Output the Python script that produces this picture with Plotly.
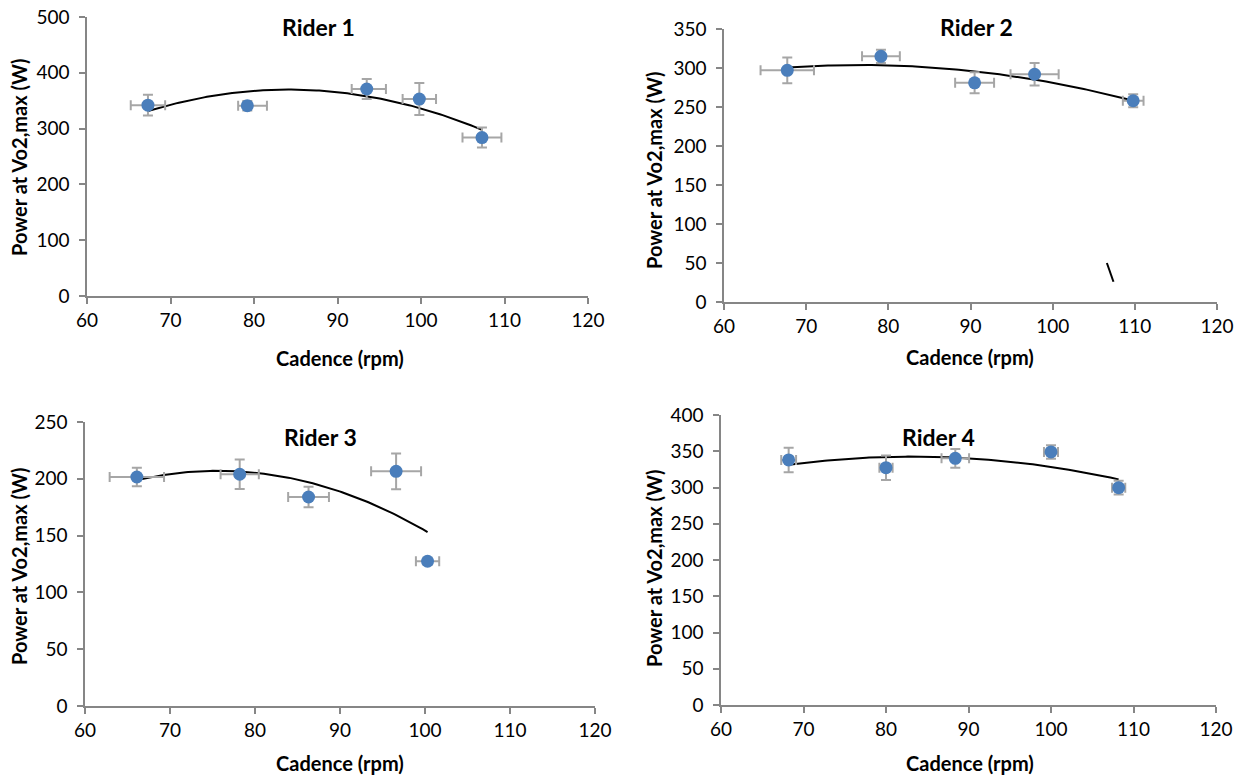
import numpy as np
import plotly.graph_objects as go

W, H = 1244, 778

# ---- data: cadence (rpm) vs power at VO2max (W), with SDs ----
rider1_cad = [67.3, 79.2, 93.5, 99.8, 107.3]
rider1_pow = [342, 341, 371, 353, 284]
rider1_cad_sd_plus = [2.06, 2.35, 2.3, 2.0, 2.33]
rider1_cad_sd_minus = [2.06, 1.1, 1.8, 2.0, 2.33]
rider1_pow_sd = [18.5, 8.6, 18, 28.7, 18]

rider2_cad = [67.7, 79.1, 90.5, 97.8, 109.8]
rider2_pow = [297, 315, 281, 292, 258]
rider2_cad_sd = [3.25, 2.3, 2.37, 2.93, 1.26]
rider2_pow_sd = [16.5, 8.5, 13.5, 14.5, 8.3]

rider3_cad = [66.1, 78.2, 86.3, 96.6, 100.3]
rider3_pow = [201.6, 204, 184, 206.6, 127.4]
rider3_cad_sd = [3.2, 2.25, 2.4, 2.94, 1.37]
rider3_pow_sd = [8.1, 12.9, 9.1, 15.7, 3]

rider4_cad = [68.2, 80.0, 88.4, 100.0, 108.2]
rider4_pow = [338, 327.3, 340.2, 349, 299.8]
rider4_cad_sd = [0.9, 0.8, 1.67, 0.85, 0.8]
rider4_pow_sd = [17, 16.8, 13, 9.2, 9.5]

titles = ["Rider 1", "Rider 2", "Rider 3", "Rider 4"]
x_label = "Cadence (rpm)"
y_label = "Power at Vo2,max (W)"
x_ticks = [60, 70, 80, 90, 100, 110, 120]
y_max = [500, 350, 250, 400]
y_step = [100, 50, 50, 50]

# stray pen stroke on the Rider 2 panel (cadence, power)
stroke_x = [106.6, 107.4]
stroke_y = [50, 26]

riders = [
    dict(x=rider1_cad, y=rider1_pow, ex=rider1_cad_sd_plus, exm=rider1_cad_sd_minus, ey=rider1_pow_sd),
    dict(x=rider2_cad, y=rider2_pow, ex=rider2_cad_sd, exm=rider2_cad_sd, ey=rider2_pow_sd),
    dict(x=rider3_cad, y=rider3_pow, ex=rider3_cad_sd, exm=rider3_cad_sd, ey=rider3_pow_sd),
    dict(x=rider4_cad, y=rider4_pow, ex=rider4_cad_sd, exm=rider4_cad_sd, ey=rider4_pow_sd),
]

# plot-area boxes in pixels: (left, right, top, bottom)
boxes = [
    (87, 588, 17, 296),
    (724, 1217, 29, 302),
    (85, 595, 422, 706),
    (721, 1216, 415, 705),
]
title_pos = [(318, 27), (976, 27), (321, 437), (938, 437)]
xlab_pos = [(340, 358), (970, 357), (340, 763), (970, 763)]
ylab_pos = [(19, 157), (654, 170), (19, 566), (654, 568)]

FONT = "Lato"
BLUE = "#4A7EBB"
GREY = "#A6A6A6"
AXIS = "#868686"


def px(x):
    return x / W


def py(y):
    return 1 - y / H


def label(text, pos, size, angle=0):
    return dict(text=f"<b>{text}</b>", x=px(pos[0]), y=py(pos[1]),
                xref="paper", yref="paper", xanchor="center", yanchor="middle",
                showarrow=False, textangle=angle,
                font=dict(family=FONT, size=size, color="black"))


fig = go.Figure()
annotations = []

for i, r in enumerate(riders):
    n = i + 1
    xa = "x" if n == 1 else f"x{n}"
    ya = "y" if n == 1 else f"y{n}"

    # second-order polynomial trend line
    coef = np.polyfit(r["x"], r["y"], 2)
    xs = np.linspace(min(r["x"]), max(r["x"]), 120)
    fig.add_trace(go.Scatter(
        x=xs, y=np.polyval(coef, xs), mode="lines",
        line=dict(color="black", width=2), xaxis=xa, yaxis=ya,
        hoverinfo="skip", showlegend=False,
    ))

    fig.add_trace(go.Scatter(
        x=r["x"], y=r["y"], mode="markers",
        marker=dict(color=BLUE, size=13, line=dict(width=0)),
        error_x=dict(type="data", array=r["ex"], arrayminus=r["exm"], symmetric=False,
                     color=GREY, thickness=2, width=5),
        error_y=dict(type="data", array=r["ey"], color=GREY, thickness=2, width=5),
        xaxis=xa, yaxis=ya, showlegend=False,
    ))

    l, rr, t, b = boxes[i]
    axis_common = dict(
        automargin=False,
        showgrid=False, zeroline=False, showline=True, linecolor=AXIS, linewidth=1.5,
        ticks="outside", ticklen=6, tickcolor=AXIS, tickwidth=1.5,
        tickfont=dict(family=FONT, size=19, color="black"),
    )
    fig.update_layout(**{
        ("xaxis" if n == 1 else f"xaxis{n}"): dict(
            domain=[px(l), px(rr)], range=[60, 120], tickvals=x_ticks,
            anchor=ya, **axis_common),
        ("yaxis" if n == 1 else f"yaxis{n}"): dict(
            domain=[py(b), py(t)], range=[0, y_max[i]], dtick=y_step[i], tick0=0,
            anchor=xa, ticklabelstandoff=6, **axis_common),
    })

    annotations.append(label(titles[i], title_pos[i], 23))
    annotations.append(label(x_label, xlab_pos[i], 20))
    annotations.append(label(y_label, ylab_pos[i], 20, angle=-90))

fig.add_shape(type="line", x0=stroke_x[0], x1=stroke_x[1], y0=stroke_y[0], y1=stroke_y[1],
              xref="x2", yref="y2", line=dict(color="black", width=2))

fig.update_layout(
    template="none",
    width=W, height=H, margin=dict(l=0, r=0, t=0, b=0, autoexpand=False),
    paper_bgcolor="white", plot_bgcolor="white",
    annotations=annotations, showlegend=False,
)

fig.write_html("out.html")
